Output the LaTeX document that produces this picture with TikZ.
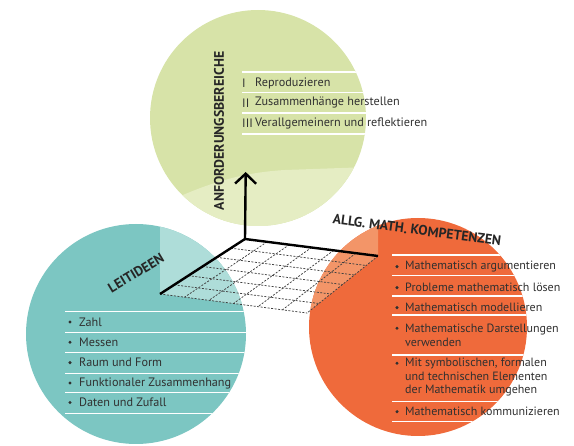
\documentclass[tikz,border=0pt]{standalone}
\usepackage{fontspec}
\setmainfont{PT Sans}
\usetikzlibrary{arrows.meta,positioning,calc}
\definecolor{anfgreen}{HTML}{D7E3A8}
\definecolor{anfgreenlight}{HTML}{E5EDC3}
\definecolor{leitteal}{HTML}{7CC6C2}
\definecolor{leittheallight}{HTML}{AEDDD9}
\definecolor{kompred}{HTML}{EF6A3B}
\definecolor{kompredlight}{HTML}{F39568}
\definecolor{textgray}{HTML}{303030}

\begin{document}
\begin{tikzpicture}[x=1pt,y=-1pt,>={Straight Barb[length=10pt,width=21pt]},
  listtext/.style={anchor=west,inner sep=0pt,text=textgray,align=left,font=\fontsize{12.2}{14}\selectfont},
  komptext/.style={listtext,font=\fontsize{12}{13.7}\selectfont},
  headline/.style={inner sep=0pt,text=black!85,font=\bfseries\fontsize{13.8}{14}\selectfont},
  bulletdot/.style={circle,fill=textgray,inner sep=0pt,minimum size=3.4pt},
  sepline/.style={white,line width=1.3pt},
  gridline/.style={black!75,dash pattern=on 2pt off 1.5pt,line width=0.75pt},
  axisline/.style={black,line width=2.4pt}]
\useasboundingbox (0,0) rectangle (574,446);

% the three circles
\fill[anfgreen] (258,118) circle (108);
\fill[leitteal] (136,334) circle (110);
\fill[kompred] (418,327) circle (109);

% corners of the grid
\coordinate (O) at (245,239);
\coordinate (U) at (245.7,172);
\coordinate (L) at (160,294);
\coordinate (R) at (378,256);
\coordinate (F) at (307,313);

% lighter parts
\begin{scope}
  \clip (258,118) circle (108);
  \fill[anfgreenlight] (150,210) .. controls (200,186) and (235,173) .. (285,170) -- (370,167) -- (370,240) -- (150,240) -- cycle;
\end{scope}
\begin{scope}
  \clip (136,334) circle (110);
  \fill[leittheallight] (L) -- (F) -- (F |- 0,220) -- (L |- 0,220) -- cycle;
\end{scope}
\begin{scope}
  \clip (418,327) circle (109);
  \fill[kompredlight] (R) -- (F) -- (F |- 0,215) -- (R |- 0,215) -- cycle;
\end{scope}

% separator lines
\begin{scope}
  \clip (258,118) circle (108);
  \foreach \y in {72,92.5,113,134}
    \draw[sepline] (242,\y) -- (380,\y);
\end{scope}
\begin{scope}
  \clip (136,334) circle (110);
  \foreach \y in {311.7,332.3,352.7,373.3,392.7,413.3}
    \draw[sepline] (65,\y) -- (250,\y);
\end{scope}
\begin{scope}
  \clip (418,327) circle (109);
  \foreach \y in {255,275.7,296,315,355,401.7,421.7}
    \draw[sepline] (392,\y) -- (530,\y);
\end{scope}

% dashed grid
\foreach \i in {1,...,6} {
  \draw[gridline] ($(O)!{\i/6}!(L)$) -- ($(R)!{\i/6}!(F)$);
  \draw[gridline] ($(O)!{\i/6}!(R)$) -- ($(L)!{\i/6}!(F)$);
}

% axes
\draw[axisline] (L) -- (O) -- (R);
\draw[axisline,->] (O) -- (U);

% headlines
\node[headline,rotate=90] (anf) at (219,131) {ANFORDERUNGSBEREICHE};
\node[headline,rotate=31] (leit) at (136,273) {LEITIDEEN};
\node[headline,rotate=-7.5] (komp) at (417,230) {ALLG. MATH. KOMPETENZEN};

% Anforderungsbereiche
\node[listtext] (n1) at (242,83) {I};
\node[listtext] (n2) at (242,103) {II};
\node[listtext] (n3) at (242,123) {III};
\node[listtext] (a1) at (255,83) {Reproduzieren};
\node[listtext] (a2) at (255,103) {Zusammenhänge herstellen};
\node[listtext] (a3) at (255,123) {Verallgemeinern und reflektieren};

% Leitideen
\foreach \y/\name/\txt in {322/l1/Zahl,342.3/l2/Messen,362.7/l3/Raum und Form,383/l4/Funktionaler Zusammenhang,402.5/l5/Daten und Zufall} {
  \node[bulletdot] (\name b) at (70,\y) {};
  \node[listtext] (\name) at (79,\y) {\txt};
}

% Kompetenzen
\node[komptext] (k1) at (405,266.7) {Mathematisch argumentieren};
\node[komptext] (k2) at (405,287.7) {Probleme mathematisch lösen};
\node[komptext] (k3) at (405,307.7) {Mathematisch modellieren};
\node[komptext] (k4) at (405,335) {Mathematische Darstellungen\\verwenden};
\node[komptext] (k5) at (405,377.3) {Mit symbolischen, formalen\\und technischen Elementen\\der Mathematik umgehen};
\node[komptext] (k6) at (405,411.7) {Mathematisch kommunizieren};
\foreach \y/\name in {266.7/k1b,287.7/k2b,307.7/k3b,328.3/k4b,363.3/k5b,411.7/k6b}
  \node[bulletdot] (\name) at (397,\y) {};
\end{tikzpicture}
\end{document}
